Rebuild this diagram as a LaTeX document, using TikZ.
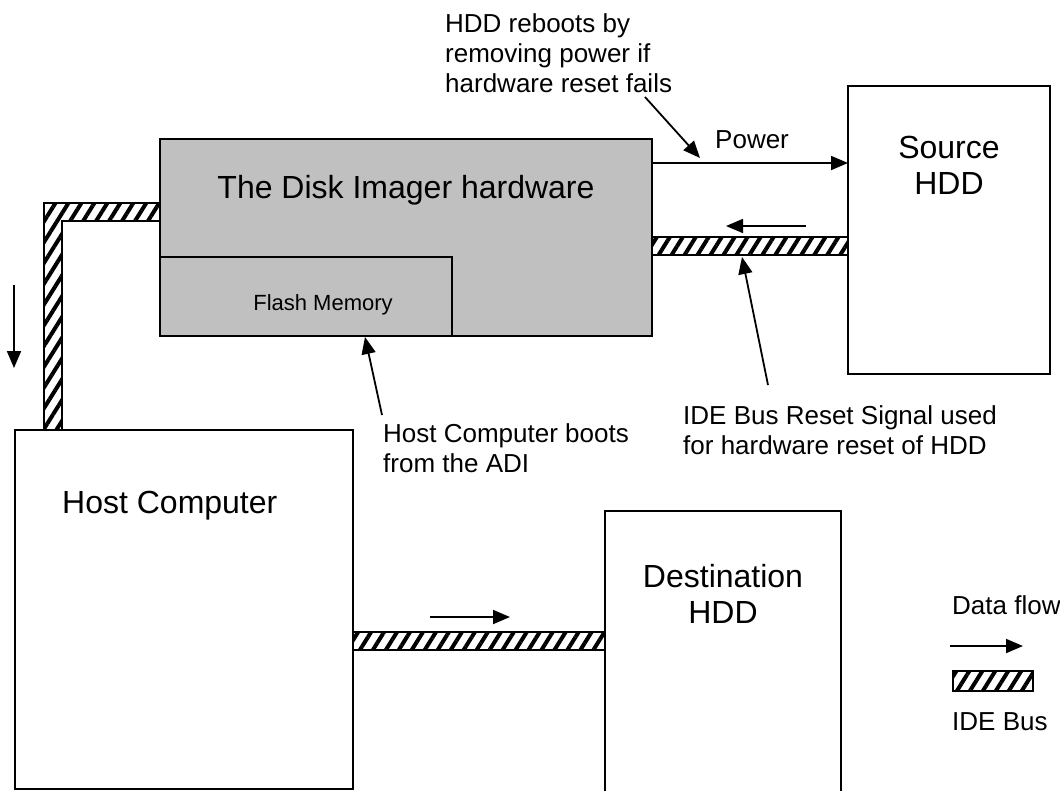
\documentclass[tikz,border=0pt]{standalone}
\usepackage{fontspec}
\setmainfont{Liberation Sans}
\usetikzlibrary{arrows.meta,patterns.meta}
\definecolor{boxgray}{HTML}{C0C0C0}
\tikzset{
  box/.style={draw,line width=2pt,inner sep=0pt,outer sep=0pt,anchor=north west},
  bus/.style={draw,line width=1.8pt,preaction={fill=white},pattern={Lines[angle=58,distance=11pt,line width=4pt]}},
  flow/.style={line width=1.8pt,-{Triangle[length=17pt,width=14pt]}},
  bigtext/.style={font=\fontsize{32}{36}\selectfont,inner sep=0pt,align=center},
  note/.style={font=\fontsize{26}{30}\selectfont,inner sep=0pt,align=left,anchor=west},
}
\begin{document}
\begin{tikzpicture}[x=1pt,y=-1pt]
\useasboundingbox (0,0) rectangle (1060,790);
% boxes
\node[box,fill=boxgray,minimum width=492pt,minimum height=197pt] (imager) at (160,139) {};
\node[box,fill=boxgray,minimum width=292pt,minimum height=79pt] (flash) at (160,257) {};
\node[box,minimum width=202pt,minimum height=288pt] (source) at (848,86) {};
\node[box,minimum width=338pt,minimum height=359pt] (host) at (15,430) {};
\node[box,minimum width=236pt,minimum height=300pt] (dest) at (605,511) {};
% IDE buses
\draw[bus] (44,0 |- host.north) |- (imager.west |- 0,203) -- ++(0,18) -| (62,0 |- host.north) -- cycle;
\draw[bus] (imager.east |- 0,237) rectangle (source.west |- 0,255);
\draw[bus] (host.east |- 0,632) rectangle (dest.west |- 0,650);
% texts
\node[bigtext] (imagertxt) at (406,190) {The Disk Imager hardware};
\node[bigtext,font=\fontsize{22}{26}\selectfont] (flashtxt) at (323,305) {Flash Memory};
\node[bigtext] (sourcetxt) at (949,165) {Source\\HDD};
\node[bigtext,anchor=west] (hosttxt) at (62,506) {Host Computer};
\node[bigtext] (desttxt) at (723,594) {Destination\\HDD};
\node[note] (powertxt) at (715,140) {Power};
\node[note] (reboottxt) at (445,53) {HDD reboots by\\removing power if\\hardware reset fails};
\node[note] (boottxt) at (383,448) {Host Computer boots\\from the ADI};
\node[note] (resettxt) at (683,430) {IDE Bus Reset Signal used\\for hardware reset of HDD};
% power and data flow
\draw[flow] (imager.east |- 0,163) -- (source.west |- 0,163);
\coordinate (fl1) at (806,226);
\coordinate (fl2) at (726,226);
\draw[flow] (fl1) -- (fl2);
\coordinate (fl3) at (14,285);
\coordinate (fl4) at (14,368);
\draw[flow] (fl3) -- (fl4);
\coordinate (fl5) at (430,617);
\coordinate (fl6) at (510,617);
\draw[flow] (fl5) -- (fl6);
% pointers
\coordinate (pt1) at (645,97);
\coordinate (pt2) at (700,158);
\draw[flow] (pt1) -- (pt2);
\coordinate (pt3) at (768,385);
\coordinate (pt4) at (742,257);
\draw[flow] (pt3) -- (pt4);
\coordinate (pt5) at (382,415);
\coordinate (pt6) at (365,337);
\draw[flow] (pt5) -- (pt6);
% legend
\node[note] (legflow) at (952,605) {Data flow};
\coordinate (lg1) at (950,646);
\coordinate (lg2) at (1023,646);
\draw[flow] (lg1) -- (lg2);
\node[bus,inner sep=0pt,minimum width=80pt,minimum height=20pt,anchor=north west] (legbus) at (952,670) {};
\node[note] (legbustxt) at (952,722) {IDE Bus};
\end{tikzpicture}
\end{document}
